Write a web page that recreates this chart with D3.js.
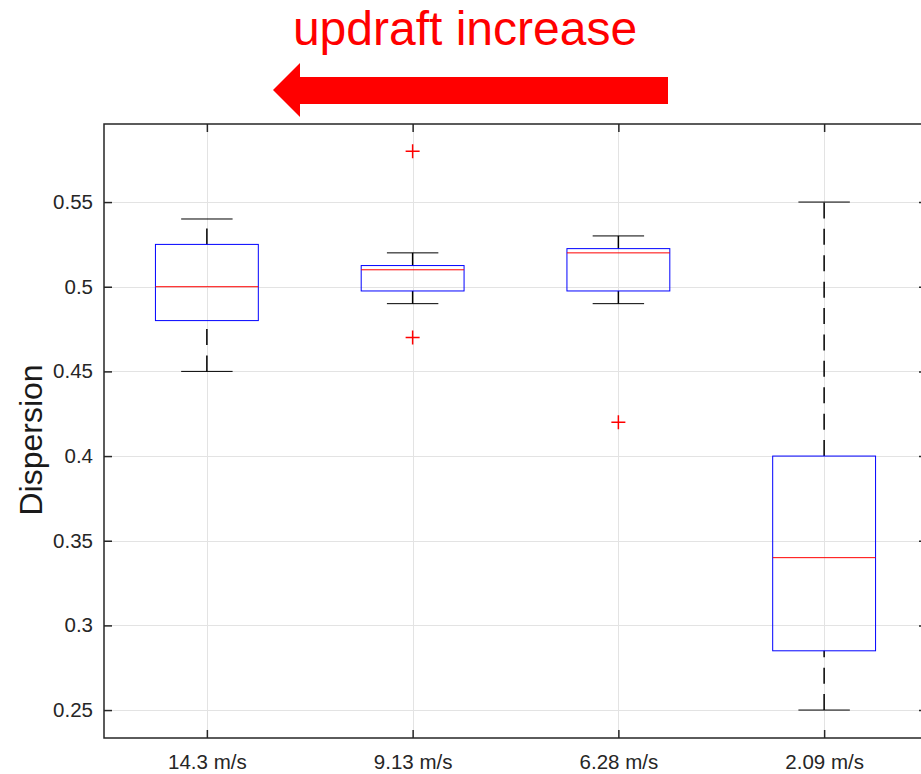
<!DOCTYPE html>
<html>
<head>
<meta charset="utf-8">
<script src="https://cdnjs.cloudflare.com/ajax/libs/d3/7.8.5/d3.min.js"></script>
<style>
  html, body { margin: 0; padding: 0; background: #fff; }
  svg text { font-family: "Liberation Sans", Arial, Helvetica, sans-serif; }
</style>
</head>
<body>
<div id="chart"></div>
<script>
'use strict';

// data
const categories   = ['14.3 m/s', '9.13 m/s', '6.28 m/s', '2.09 m/s'];
const lowWhisker   = [0.45, 0.49, 0.49, 0.25];
const q1           = [0.48, 0.4975, 0.4975, 0.285];
const medians      = [0.50, 0.51, 0.52, 0.34];
const q3           = [0.525, 0.5125, 0.5225, 0.40];
const highWhisker  = [0.54, 0.52, 0.53, 0.55];
const outliers     = [[], [0.58, 0.47], [0.42], []];
const yTicks       = [0.25, 0.3, 0.35, 0.4, 0.45, 0.5, 0.55];

const W = 921, H = 774;
const plot = { left: 104, right: 927, top: 124, bottom: 738 };
const ink = '#262626';

const boxes = categories.map((c, i) => ({
    pos: i + 1, label: c,
    lo: lowWhisker[i], q1: q1[i], med: medians[i], q3: q3[i], hi: highWhisker[i],
    out: outliers[i]
}));

const x = d3.scaleLinear().domain([0.5, 4.5]).range([plot.left, plot.right]);
const y = d3.scaleLinear().domain([0.2335, 0.5961]).range([plot.bottom, plot.top]);

const svg = d3.select('#chart').append('svg')
    .attr('width', W).attr('height', H);

svg.append('defs').append('clipPath').attr('id', 'clip')
    .append('rect')
    .attr('x', plot.left).attr('y', plot.top)
    .attr('width', plot.right - plot.left).attr('height', plot.bottom - plot.top);

// grid
const grid = svg.append('g').attr('stroke', '#e3e3e3').attr('stroke-width', 1);
grid.selectAll('.gy').data(yTicks).enter().append('line')
    .attr('x1', plot.left).attr('x2', plot.right)
    .attr('y1', d => Math.round(y(d)) + 0.5).attr('y2', d => Math.round(y(d)) + 0.5);
grid.selectAll('.gx').data(boxes).enter().append('line')
    .attr('x1', d => Math.round(x(d.pos)) + 0.5).attr('x2', d => Math.round(x(d.pos)) + 0.5)
    .attr('y1', plot.top).attr('y2', plot.bottom);

// axes (inward ticks on all four sides)
const tickLen = 8;
const fmt = d3.format('');
const axL = d3.axisLeft(y).tickValues(yTicks).tickSizeInner(-tickLen).tickSizeOuter(0)
    .tickPadding(11).tickFormat(fmt);
const axR = d3.axisRight(y).tickValues(yTicks).tickSizeInner(-tickLen).tickSizeOuter(0).tickFormat('');
const axB = d3.axisBottom(x).tickValues(boxes.map(d => d.pos)).tickSizeInner(-tickLen).tickSizeOuter(0)
    .tickPadding(16).tickFormat(d => categories[d - 1]);
const axT = d3.axisTop(x).tickValues(boxes.map(d => d.pos)).tickSizeInner(-tickLen).tickSizeOuter(0).tickFormat('');

function styleAxis(g) {
    g.select('.domain').remove();
    g.selectAll('.tick line').attr('stroke', ink).attr('stroke-width', 1.5);
    g.selectAll('.tick text').attr('fill', ink).attr('font-size', 20.5)
        .attr('font-family', '"Liberation Sans", Arial, Helvetica, sans-serif');
}
svg.append('g').attr('transform', `translate(${plot.left},0)`).call(axL).call(styleAxis);
svg.append('g').attr('transform', `translate(${plot.right},0)`).call(axR).call(styleAxis);
svg.append('g').attr('transform', `translate(0,${plot.bottom})`).call(axB).call(styleAxis);
svg.append('g').attr('transform', `translate(0,${plot.top})`).call(axT).call(styleAxis);

svg.append('rect')
    .attr('x', plot.left).attr('y', plot.top)
    .attr('width', plot.right - plot.left).attr('height', plot.bottom - plot.top)
    .attr('fill', 'none').attr('stroke', ink).attr('stroke-width', 1.5);

// boxplots
const bw = 0.25;   // half box width in data units
const cw = 0.125;  // half cap width
const g = svg.append('g').attr('clip-path', 'url(#clip)');

// whiskers, drawn from the lower value upward (dash phase like the original)
g.selectAll('.wlo').data(boxes).enter().append('line')
    .attr('x1', d => x(d.pos)).attr('x2', d => x(d.pos))
    .attr('y1', d => y(d.lo)).attr('y2', d => y(d.q1))
    .attr('stroke', '#000').attr('stroke-width', 1.5).attr('stroke-dasharray', '16,10.4');
g.selectAll('.whi').data(boxes).enter().append('line')
    .attr('x1', d => x(d.pos)).attr('x2', d => x(d.pos))
    .attr('y1', d => y(d.q3)).attr('y2', d => y(d.hi))
    .attr('stroke', '#000').attr('stroke-width', 1.5).attr('stroke-dasharray', '16,10.4');

// caps
['lo', 'hi'].forEach(k => {
    g.selectAll('.cap-' + k).data(boxes).enter().append('line')
        .attr('x1', d => x(d.pos - cw)).attr('x2', d => x(d.pos + cw))
        .attr('y1', d => y(d[k])).attr('y2', d => y(d[k]))
        .attr('stroke', '#000').attr('stroke-width', 1);
});

// boxes
g.selectAll('.box').data(boxes).enter().append('rect')
    .attr('x', d => x(d.pos - bw))
    .attr('width', d => x(d.pos + bw) - x(d.pos - bw))
    .attr('y', d => y(d.q3))
    .attr('height', d => y(d.q1) - y(d.q3))
    .attr('fill', 'none').attr('stroke', '#0000ff').attr('stroke-width', 1);

// medians
g.selectAll('.med').data(boxes).enter().append('line')
    .attr('x1', d => x(d.pos - bw)).attr('x2', d => x(d.pos + bw))
    .attr('y1', d => y(d.med)).attr('y2', d => y(d.med))
    .attr('stroke', '#ff0000').attr('stroke-width', 1);

// outliers
const outPts = boxes.flatMap(d => d.out.map(v => ({ pos: d.pos, v })));
g.selectAll('.out').data(outPts).enter().append('path')
    .attr('transform', d => `translate(${x(d.pos)},${y(d.v)})`)
    .attr('d', 'M-7,0H7M0,-7V7')
    .attr('stroke', '#ff0000').attr('stroke-width', 1.5).attr('fill', 'none');

// y label
svg.append('text')
    .attr('transform', 'translate(42,440) rotate(-90)')
    .attr('text-anchor', 'middle')
    .attr('font-size', 32).attr('fill', '#1a1a1a')
    .text('Dispersion');

// annotation: title and arrow
svg.append('text')
    .attr('x', 465).attr('y', 45)
    .attr('text-anchor', 'middle')
    .attr('font-size', 48).attr('fill', '#ff0000')
    .text('updraft increase');

svg.append('path')
    .attr('d', 'M273,90 L300,63 L300,77 L668,77 L668,104 L300,104 L300,117 Z')
    .attr('fill', '#ff0000');
</script>
</body>
</html>
